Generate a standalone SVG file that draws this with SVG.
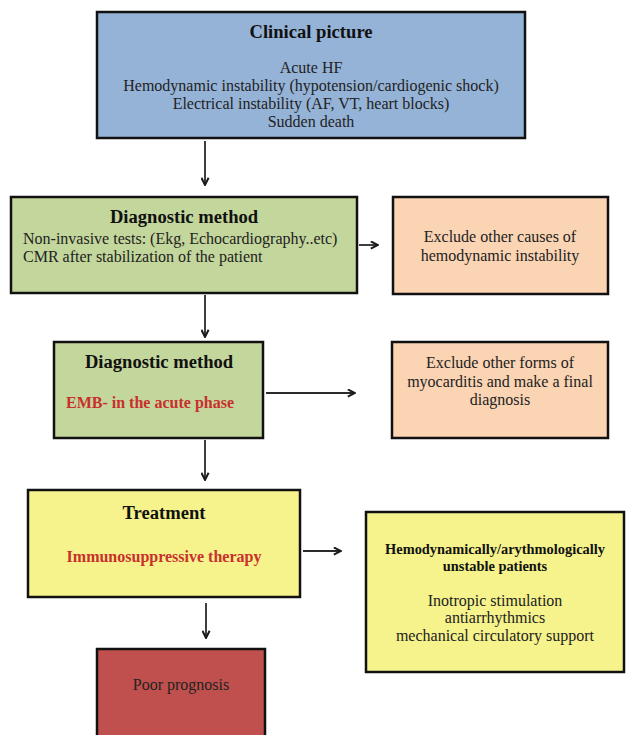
<svg xmlns="http://www.w3.org/2000/svg" width="627" height="735" viewBox="0 0 627 735">
<style>
.box{stroke:#111;stroke-width:2.5}
.t{font-family:"Liberation Serif","Times New Roman",serif;fill:#222}
.title{font-size:18.6px;font-weight:bold;fill:#111}
.body{font-size:16px}
.red{font-size:16px;font-weight:bold;fill:#c8302e}
.bt{font-size:14.4px;font-weight:bold;fill:#111}
.c{text-anchor:middle}
.conn{stroke:#2a2a2a;stroke-width:1.8;fill:none;marker-end:url(#ah)}
</style>
<defs>
<marker id="ah" viewBox="0 0 10 10" refX="9" refY="5" markerWidth="9" markerHeight="9" markerUnits="userSpaceOnUse" orient="auto">
<path d="M1,1 L9,5 L1,9" fill="none" stroke="#1a1a1a" stroke-width="2.2"/>
</marker>
</defs>
<rect width="627" height="735" fill="#fff"/>
<g id="clinical">
<rect class="box" x="97" y="12" width="428" height="126" fill="#95b3d7"/>
<text class="t title c" x="311" y="38">Clinical picture</text>
<text class="t body c" x="311" y="73">Acute HF</text>
<text class="t body c" x="311" y="91">Hemodynamic instability (hypotension/cardiogenic shock)</text>
<text class="t body c" x="311" y="109">Electrical instability (AF, VT, heart blocks)</text>
<text class="t body c" x="311" y="127">Sudden death</text>
</g>
<g id="diag1">
<rect class="box" x="11" y="197" width="346" height="96" fill="#c3d69b"/>
<text class="t title c" x="184" y="223">Diagnostic method</text>
<text class="t body" x="23" y="244">Non-invasive tests: (Ekg, Echocardiography..etc)</text>
<text class="t body" x="23" y="262">CMR after stabilization of the patient</text>
</g>
<g id="exclude1">
<rect class="box" x="393" y="197" width="215" height="97" fill="#fbd4b4"/>
<text class="t body c" x="500" y="242">Exclude other causes of</text>
<text class="t body c" x="500" y="261">hemodynamic instability</text>
</g>
<g id="diag2">
<rect class="box" x="54" y="342" width="209" height="96" fill="#c3d69b"/>
<text class="t title c" x="159" y="368">Diagnostic method</text>
<text class="t red" x="66" y="408">EMB- in the acute phase</text>
</g>
<g id="exclude2">
<rect class="box" x="392" y="342" width="216" height="96" fill="#fbd4b4"/>
<text class="t body c" x="500" y="368">Exclude other forms of</text>
<text class="t body c" x="500" y="387">myocarditis and make a final</text>
<text class="t body c" x="500" y="405">diagnosis</text>
</g>
<g id="treatment">
<rect class="box" x="28" y="490" width="272" height="107" fill="#f6f38c"/>
<text class="t title c" x="164" y="519">Treatment</text>
<text class="t red c" x="164" y="562">Immunosuppressive therapy</text>
</g>
<g id="unstable">
<rect class="box" x="366" y="512" width="258" height="160" fill="#f6f38c"/>
<text class="t bt c" x="495" y="554">Hemodynamically/arythmologically</text>
<text class="t bt c" x="495" y="571">unstable patients</text>
<text class="t body c" x="495" y="606">Inotropic stimulation</text>
<text class="t body c" x="495" y="623">antiarrhythmics</text>
<text class="t body c" x="495" y="641">mechanical circulatory support</text>
</g>
<g id="prognosis">
<rect class="box" x="97" y="649" width="168" height="100" fill="#c0504d"/>
<text class="t body c" x="181" y="690">Poor prognosis</text>
</g>
<g id="connectors">
<line class="conn" x1="205" y1="141" x2="205" y2="185"/>
<line class="conn" x1="205" y1="295" x2="205" y2="337"/>
<line class="conn" x1="205" y1="440" x2="205" y2="480"/>
<line class="conn" x1="206" y1="603" x2="206" y2="638"/>
<line class="conn" x1="359" y1="245" x2="378" y2="245"/>
<line class="conn" x1="266" y1="393" x2="355" y2="393"/>
<line class="conn" x1="303" y1="551" x2="341" y2="551"/>
</g>
</svg>
